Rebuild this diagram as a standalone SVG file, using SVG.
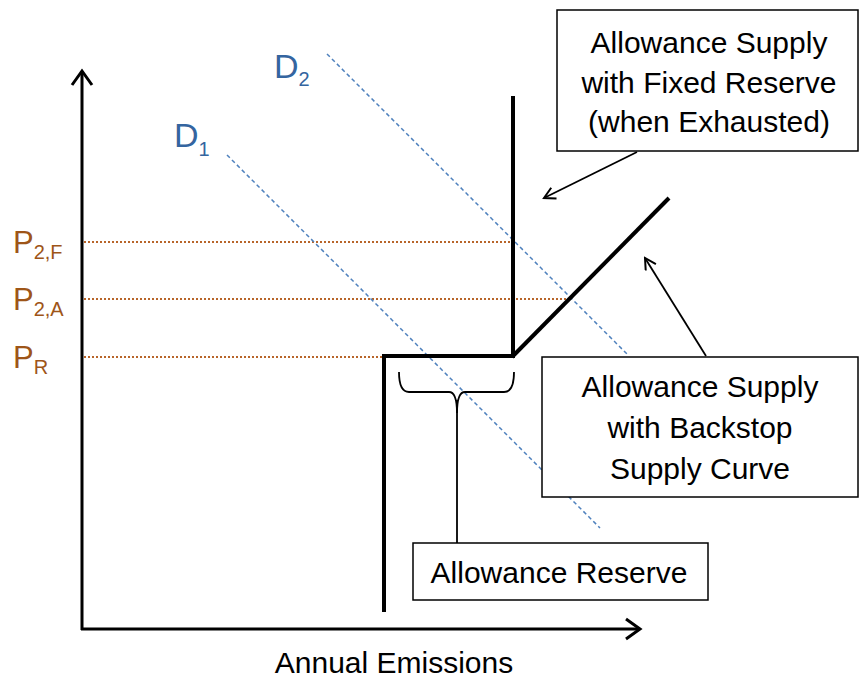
<svg xmlns="http://www.w3.org/2000/svg" width="861" height="686" viewBox="0 0 861 686">
<style>
text{font-family:"Liberation Sans",Arial,sans-serif;}
.lbl{font-size:30px;fill:#000;text-anchor:middle;}
.box{fill:#fff;stroke:#000;stroke-width:1.5;}
.price{font-size:31px;fill:#9E5518;}
.sub{font-size:20px;}
.dem{font-size:34px;fill:#3465A0;}
.pline{stroke:#B8652A;stroke-width:2;stroke-dasharray:2 2;fill:none;}
.dline{stroke:#4F81BD;stroke-width:1.5;stroke-dasharray:4 3;fill:none;}
.axis{stroke:#000;stroke-width:3;fill:none;}
.supply{stroke:#000;stroke-width:4;fill:none;}
.conn{stroke:#000;stroke-width:1.8;fill:none;}
</style>
<defs>
<marker id="open" markerWidth="14" markerHeight="14" refX="12" refY="7" orient="auto" markerUnits="userSpaceOnUse">
<path d="M1,1 L12,7 L1,13" fill="none" stroke="#000" stroke-width="2"/>
</marker>
<marker id="axisHead" markerWidth="24" markerHeight="24" refX="20" refY="12" orient="auto" markerUnits="userSpaceOnUse">
<path d="M6,2 L20,12 L6,22" fill="none" stroke="#000" stroke-width="3"/>
</marker>
</defs>
<g id="price-lines">
<line class="pline" x1="84" y1="242" x2="512" y2="242"/>
<line class="pline" x1="84" y1="299" x2="570" y2="299"/>
<line class="pline" x1="84" y1="357" x2="384" y2="357"/>
</g>
<g id="demand">
<line class="dline" x1="227" y1="155" x2="600" y2="528"/>
<line class="dline" x1="327" y1="54" x2="628" y2="355"/>
<text class="dem" x="174" y="147">D<tspan class="sub" dy="9" font-size="23">1</tspan></text>
<text class="dem" x="274" y="78">D<tspan class="sub" dy="8" font-size="23">2</tspan></text>
</g>
<g id="axes">
<line class="axis" x1="82" y1="630" x2="82" y2="71" marker-end="url(#axisHead)"/>
<line class="axis" x1="81" y1="629" x2="640" y2="629" marker-end="url(#axisHead)"/>
</g>
<g id="supply">
<polyline class="supply" points="384,612 384,356 513,356 513,96"/>
<line class="supply" x1="512" y1="357" x2="669" y2="198"/>
</g>
<g id="price-labels">
<text class="price" x="13" y="253">P<tspan class="sub" dy="6">2,F</tspan></text>
<text class="price" x="13" y="310">P<tspan class="sub" dy="6">2,A</tspan></text>
<text class="price" x="13" y="368">P<tspan class="sub" dy="6">R</tspan></text>
</g>
<g id="connectors">
<path class="conn" d="M399,372 Q399,392 409,392 L449,392 Q457,392 457,413 Q457,392 465,392 L504,392 Q514,392 514,372" stroke-width="1.5"/>
<line class="conn" x1="457" y1="400" x2="457" y2="543"/>
<line class="conn" x1="637" y1="152" x2="544" y2="198" marker-end="url(#open)"/>
<line class="conn" x1="706" y1="356" x2="645" y2="258" marker-end="url(#open)"/>
</g>
<g id="box-fixed">
<rect class="box" x="557" y="10" width="301" height="141"/>
<text class="lbl" x="709" y="53">Allowance Supply</text>
<text class="lbl" x="709" y="93">with Fixed Reserve</text>
<text class="lbl" x="709" y="132">(when Exhausted)</text>
</g>
<g id="box-backstop">
<rect class="box" x="542" y="357" width="316" height="140"/>
<text class="lbl" x="700" y="397">Allowance Supply</text>
<text class="lbl" x="700" y="438">with Backstop</text>
<text class="lbl" x="700" y="479">Supply Curve</text>
</g>
<g id="box-reserve">
<rect class="box" x="413" y="543" width="295" height="57"/>
<text class="lbl" x="559" y="583">Allowance Reserve</text>
</g>
<g id="x-label">
<text class="lbl" x="394" y="673">Annual Emissions</text>
</g>
</svg>
